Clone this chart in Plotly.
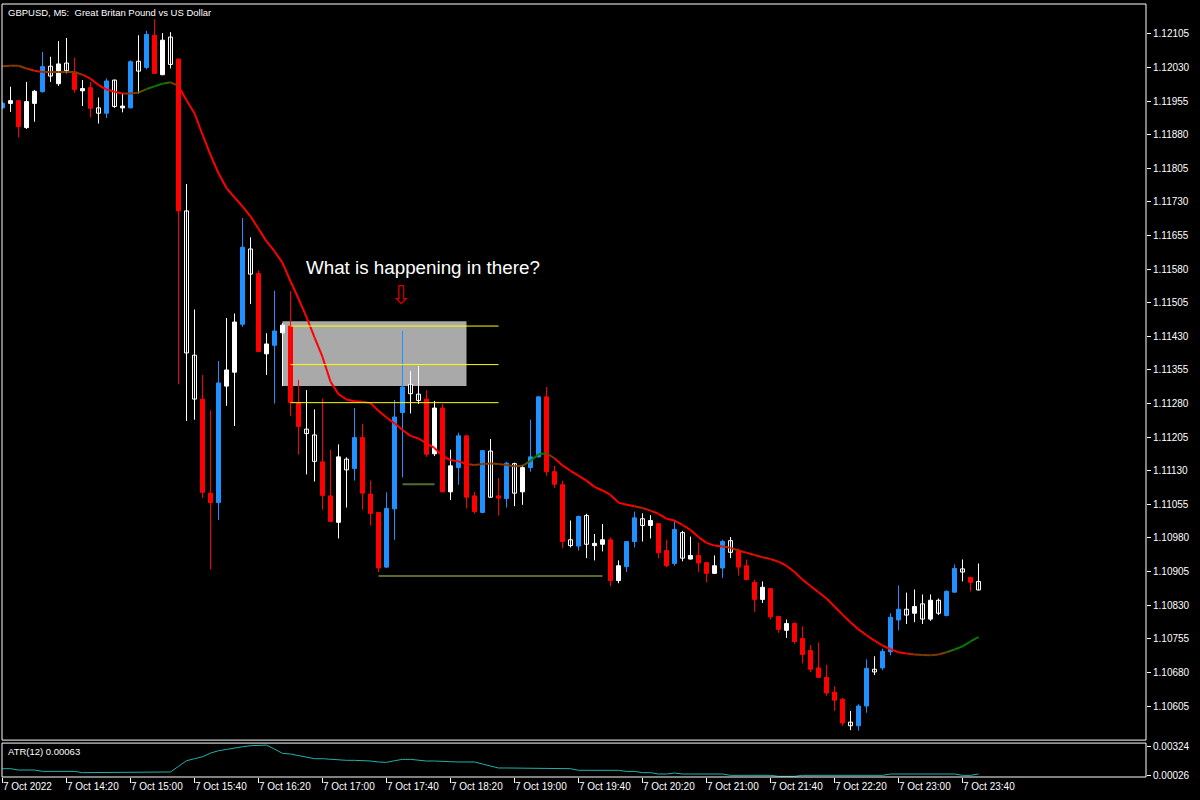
import plotly.graph_objects as go

# ---------------- data (GBPUSD M5, 7 Oct 2022 13:40 .. 23:50) ----------------
opens = [
    1.11940, 1.11950, 1.11956, 1.11896, 1.11950, 1.11976, 1.12033, 1.11994, 1.12040, 1.12020,
    1.11978, 1.11985, 1.11940, 1.11928, 1.12002, 1.11940, 1.11940, 1.12044, 1.12030, 1.12102,
    1.12014, 1.12098, 1.12049, 1.11710, 1.11388, 1.11290, 1.11080, 1.11059, 1.11319, 1.11350,
    1.11457, 1.11625, 1.11570, 1.11391, 1.11410, 1.11438, 1.11453, 1.11281, 1.11223, 1.11210,
    1.11150, 1.11074, 1.11015, 1.11156, 1.11135, 1.11204, 1.11078, 1.11037, 1.10915, 1.11045,
    1.11260, 1.11323, 1.11301, 1.11290, 1.11168, 1.11270, 1.11083, 1.11137, 1.11208, 1.11074,
    1.11037, 1.11174, 1.11074, 1.11068, 1.11146, 1.11083, 1.11137, 1.11161, 1.11295, 1.11128,
    1.11099, 1.10976, 1.10962, 1.11030, 1.10963, 1.10966, 1.10976, 1.10885, 1.10916, 1.10972,
    1.11023, 1.11008, 1.11012, 1.10952, 1.10923, 1.10992, 1.10933, 1.10941, 1.10925, 1.10901,
    1.10913, 1.10974, 1.10950, 1.10918, 1.10881, 1.10843, 1.10867, 1.10805, 1.10774, 1.10789,
    1.10756, 1.10729, 1.10690, 1.10669, 1.10636, 1.10620, 1.10569, 1.10561, 1.10605, 1.10687,
    1.10690, 1.10726, 1.10797, 1.10821, 1.10812, 1.10833, 1.10799, 1.10841, 1.10807, 1.10859,
    1.10911, 1.10892, 1.10883]

highs = [
    1.11954, 1.11987, 1.11957, 1.11998, 1.11980, 1.12065, 1.12054, 1.12089, 1.12096, 1.12052,
    1.12002, 1.11998, 1.11963, 1.12006, 1.12003, 1.11972, 1.12046, 1.12102, 1.12112, 1.12138,
    1.12107, 1.12109, 1.12050, 1.11770, 1.11490, 1.11344, 1.11265, 1.11375, 1.11471, 1.11481,
    1.11694, 1.11651, 1.11577, 1.11437, 1.11532, 1.11460, 1.11531, 1.11333, 1.11310, 1.11267,
    1.11291, 1.11177, 1.11189, 1.11160, 1.11270, 1.11235, 1.11108, 1.11038, 1.11082, 1.11288,
    1.11442, 1.11353, 1.11364, 1.11310, 1.11286, 1.11279, 1.11177, 1.11215, 1.11210, 1.11083,
    1.11176, 1.11201, 1.11114, 1.11150, 1.11148, 1.11143, 1.11244, 1.11297, 1.11317, 1.11141,
    1.11108, 1.11019, 1.11030, 1.11034, 1.10989, 1.11011, 1.10981, 1.10930, 1.10973, 1.11039,
    1.11035, 1.11031, 1.11013, 1.10976, 1.11019, 1.10996, 1.10983, 1.10970, 1.10926, 1.10941,
    1.10976, 1.10982, 1.10957, 1.10932, 1.10887, 1.10883, 1.10868, 1.10806, 1.10798, 1.10792,
    1.10783, 1.10741, 1.10747, 1.10697, 1.10649, 1.10623, 1.10594, 1.10609, 1.10709, 1.10716,
    1.10733, 1.10812, 1.10874, 1.10858, 1.10865, 1.10854, 1.10854, 1.10845, 1.10863, 1.10921,
    1.10932, 1.10893, 1.10923]

lows = [
    1.11938, 1.11931, 1.11874, 1.11893, 1.11909, 1.11974, 1.11998, 1.11989, 1.12017, 1.11974,
    1.11944, 1.11919, 1.11905, 1.11917, 1.11940, 1.11930, 1.11939, 1.11972, 1.12026, 1.12016,
    1.12013, 1.12028, 1.11323, 1.11241, 1.11244, 1.11069, 1.10910, 1.11020, 1.11275, 1.11230,
    1.11451, 1.11502, 1.11395, 1.11344, 1.11280, 1.11319, 1.11252, 1.11166, 1.11122, 1.11106,
    1.11043, 1.11015, 1.10979, 1.11048, 1.11108, 1.11043, 1.11008, 1.10904, 1.10914, 1.10976,
    1.11115, 1.11258, 1.11279, 1.11161, 1.11163, 1.11082, 1.11065, 1.11099, 1.11046, 1.11034,
    1.11035, 1.11070, 1.11030, 1.11048, 1.11051, 1.11054, 1.11128, 1.11160, 1.11119, 1.11092,
    1.10957, 1.10959, 1.10952, 1.10935, 1.10930, 1.10950, 1.10872, 1.10879, 1.10904, 1.10959,
    1.10972, 1.10979, 1.10935, 1.10915, 1.10918, 1.10928, 1.10932, 1.10904, 1.10881, 1.10900,
    1.10891, 1.10935, 1.10896, 1.10886, 1.10815, 1.10835, 1.10798, 1.10768, 1.10757, 1.10744,
    1.10700, 1.10681, 1.10668, 1.10628, 1.10594, 1.10561, 1.10551, 1.10550, 1.10590, 1.10674,
    1.10685, 1.10718, 1.10774, 1.10788, 1.10792, 1.10788, 1.10795, 1.10808, 1.10805, 1.10858,
    1.10883, 1.10861, 1.10863]

closes = [
    1.11950, 1.11956, 1.11898, 1.11954, 1.11977, 1.12032, 1.12011, 1.12038, 1.12023, 1.11981,
    1.11983, 1.11939, 1.11928, 1.12000, 1.11943, 1.11944, 1.12043, 1.12022, 1.12104, 1.12017,
    1.12091, 1.12037, 1.11710, 1.11393, 1.11290, 1.11082, 1.11059, 1.11326, 1.11355, 1.11462,
    1.11629, 1.11569, 1.11396, 1.11413, 1.11442, 1.11455, 1.11282, 1.11229, 1.11213, 1.11151,
    1.11075, 1.11017, 1.11161, 1.11132, 1.11204, 1.11080, 1.11035, 1.10913, 1.11046, 1.11250,
    1.11317, 1.11302, 1.11287, 1.11167, 1.11270, 1.11083, 1.11141, 1.11208, 1.11071, 1.11039,
    1.11175, 1.11071, 1.11069, 1.11147, 1.11080, 1.11137, 1.11161, 1.11295, 1.11128, 1.11100,
    1.10972, 1.10963, 1.11028, 1.10966, 1.10968, 1.10976, 1.10885, 1.10918, 1.10972, 1.11025,
    1.11008, 1.11019, 1.10947, 1.10918, 1.10999, 1.10935, 1.10941, 1.10924, 1.10901, 1.10918,
    1.10972, 1.10948, 1.10915, 1.10887, 1.10843, 1.10870, 1.10804, 1.10776, 1.10789, 1.10749,
    1.10720, 1.10687, 1.10669, 1.10634, 1.10618, 1.10567, 1.10561, 1.10605, 1.10689, 1.10681,
    1.10727, 1.10803, 1.10821, 1.10808, 1.10827, 1.10799, 1.10841, 1.10812, 1.10861, 1.10912,
    1.10904, 1.10881, 1.10864]

# indicator candle state: 1 = bullish signal bar, -1 = bearish signal bar, 0 = plain bar
signal = [
    1, 0, -1, 0, 0, 1, 0, 0, 0, -1,
    0, -1, 0, 1, 0, 0, 1, 0, 1, -1,
    0, 0, -1, 0, 0, -1, -1, 1, 0, 0,
    1, 0, -1, 0, 1, 0, -1, -1, 0, 0,
    -1, -1, 0, 0, 1, -1, -1, -1, 1, 1,
    1, 0, 0, -1, 0, -1, 0, 1, -1, -1,
    1, 0, -1, 1, 0, 0, 1, 1, -1, -1,
    -1, 0, 1, 0, 0, 0, -1, 0, 1, 1,
    0, 0, -1, -1, 1, 0, 0, -1, -1, 0,
    1, 0, -1, -1, -1, 0, -1, -1, 0, -1,
    -1, -1, -1, -1, -1, -1, 0, 1, 1, 0,
    1, 1, 1, 0, 0, 0, 0, 0, 1, 1,
    0, -1, 0]

ma_values = [
    1.12033, 1.12034, 1.12034, 1.12028, 1.12023, 1.12020, 1.12020, 1.12020, 1.12020, 1.12020,
    1.12014, 1.12005, 1.11991, 1.11981, 1.11976, 1.11972, 1.11972, 1.11974, 1.11982, 1.11988,
    1.11994, 1.11997, 1.11989, 1.11957, 1.11928, 1.11880, 1.11835, 1.11794, 1.11761, 1.11740,
    1.11720, 1.11698, 1.11670, 1.11642, 1.11620, 1.11594, 1.11553, 1.11514, 1.11473, 1.11428,
    1.11384, 1.11329, 1.11301, 1.11289, 1.11285, 1.11284, 1.11281, 1.11264, 1.11249, 1.11236,
    1.11221, 1.11208, 1.11202, 1.11191, 1.11181, 1.11163, 1.11154, 1.11151, 1.11145, 1.11143,
    1.11145, 1.11146, 1.11145, 1.11143, 1.11140, 1.11141, 1.11152, 1.11167, 1.11169, 1.11158,
    1.11142, 1.11130, 1.11119, 1.11108, 1.11094, 1.11086, 1.11076, 1.11059, 1.11054, 1.11051,
    1.11047, 1.11041, 1.11034, 1.11023, 1.11019, 1.11009, 1.10998, 1.10982, 1.10969, 1.10963,
    1.10961, 1.10958, 1.10952, 1.10947, 1.10942, 1.10937, 1.10933, 1.10927, 1.10918, 1.10904,
    1.10887, 1.10873, 1.10859, 1.10845, 1.10827, 1.10809, 1.10792, 1.10776, 1.10763, 1.10751,
    1.10740, 1.10732, 1.10725, 1.10722, 1.10720, 1.10719, 1.10718, 1.10720, 1.10725, 1.10731,
    1.10738, 1.10749, 1.10759]

atr_values = [
    0.00096, 0.00096, 0.00082, 0.00082, 0.00082, 0.00068, 0.00068, 0.00068, 0.00068, 0.00068,
    0.00055, 0.00055, 0.00055, 0.00055, 0.00055, 0.00055, 0.00055, 0.00055, 0.00062, 0.00062,
    0.00062, 0.00062, 0.00120, 0.00178, 0.00199, 0.00219, 0.00257, 0.00281, 0.00295, 0.00305,
    0.00322, 0.00333, 0.00336, 0.00339, 0.00298, 0.00254, 0.00247, 0.00233, 0.00216, 0.00199,
    0.00199, 0.00192, 0.00185, 0.00182, 0.00182, 0.00182, 0.00175, 0.00165, 0.00161, 0.00178,
    0.00192, 0.00192, 0.00182, 0.00175, 0.00175, 0.00168, 0.00168, 0.00165, 0.00168, 0.00165,
    0.00144, 0.00123, 0.00103, 0.00103, 0.00103, 0.00103, 0.00103, 0.00096, 0.00096, 0.00096,
    0.00096, 0.00096, 0.00079, 0.00079, 0.00079, 0.00079, 0.00079, 0.00079, 0.00068, 0.00068,
    0.00055, 0.00055, 0.00041, 0.00041, 0.00051, 0.00041, 0.00041, 0.00041, 0.00041, 0.00041,
    0.00041, 0.00027, 0.00027, 0.00027, 0.00027, 0.00027, 0.00027, 0.00017, 0.00017, 0.00017,
    0.00027, 0.00027, 0.00027, 0.00027, 0.00027, 0.00027, 0.00027, 0.00027, 0.00027, 0.00027,
    0.00027, 0.00041, 0.00041, 0.00041, 0.00041, 0.00041, 0.00041, 0.00041, 0.00041, 0.00041,
    0.00027, 0.00027, 0.00041]

x_tick_positions = [0, 8, 16, 24, 32, 40, 48, 56, 64, 72, 80, 88, 96, 104, 112, 120]
x_tick_labels = ["7 Oct 2022", "7 Oct 14:20", "7 Oct 15:00", "7 Oct 15:40", "7 Oct 16:20",
                 "7 Oct 17:00", "7 Oct 17:40", "7 Oct 18:20", "7 Oct 19:00", "7 Oct 19:40",
                 "7 Oct 20:20", "7 Oct 21:00", "7 Oct 21:40", "7 Oct 22:20", "7 Oct 23:00",
                 "7 Oct 23:40"]
price_ticks = [1.10605, 1.10680, 1.10755, 1.10830, 1.10905, 1.10980, 1.11055, 1.11130,
               1.11205, 1.11280, 1.11355, 1.11430, 1.11505, 1.11580, 1.11655, 1.11730,
               1.11805, 1.11880, 1.11955, 1.12030, 1.12105]
price_tick_labels = ["1.10605", "1.10680", "1.10755", "1.10830", "1.10905", "1.10980", "1.11055",
                     "1.11130", "1.11205", "1.11280", "1.11355", "1.11430", "1.11505", "1.11580",
                     "1.11655", "1.11730", "1.11805", "1.11880", "1.11955", "1.12030", "1.12105"]
atr_ticks = [0.00026, 0.00324]
atr_tick_labels = ["0.00026", "0.00324"]

# drawn objects on the chart
zone_start, zone_end = 35, 58
zone_top, zone_bottom = 1.11464, 1.11319
fib_start, fib_end = 36, 62
fib_levels = [1.11453, 1.11367, 1.11282]
support_lines = [(50, 54, 1.11100), (47, 75, 1.10895)]

chart_title = "GBPUSD, M5:\u00a0 Great Britan Pound vs US Dollar"
atr_label = "ATR(12) 0.00063"
note_text = "What is happening in there?"

# ---------------- styling ----------------
BLUE, RED, WHITE, BLACK = "#1E90FF", "#FF0000", "#FFFFFF", "#000000"
FONT = "Liberation Sans, Arial, sans-serif"

n = len(opens)
groups = {"blue": [], "red": [], "bull": [], "bear": []}
for i in range(n):
    if signal[i] == 1:
        groups["blue"].append(i)
    elif signal[i] == -1:
        groups["red"].append(i)
    elif closes[i] >= opens[i]:
        groups["bull"].append(i)
    else:
        groups["bear"].append(i)

edge = {"blue": BLUE, "red": RED, "bull": WHITE, "bear": WHITE}
fill = {"blue": BLUE, "red": RED, "bull": WHITE, "bear": BLACK}

fig = go.Figure()

# wicks
for g, members in groups.items():
    xs, ys = [], []
    for i in members:
        xs += [i, i, None]
        ys += [lows[i], highs[i], None]
    fig.add_trace(go.Scatter(x=xs, y=ys, mode="lines", line=dict(color=edge[g], width=1),
                             hoverinfo="skip", showlegend=False, xaxis="x", yaxis="y"))

# bodies
for g, members in groups.items():
    base = [min(opens[i], closes[i]) for i in members]
    height = [abs(closes[i] - opens[i]) for i in members]
    fig.add_trace(go.Bar(x=members, y=height, base=base, width=0.5,
                         marker=dict(color=fill[g], line=dict(color=edge[g], width=1)),
                         hoverinfo="skip", showlegend=False, xaxis="x", yaxis="y"))

# colour-changing moving average
brown, red_c, green = (128, 60, 0), (255, 0, 0), (0, 128, 0)


def ma_colour(i):
    d = (ma_values[i] - ma_values[max(0, i - 3)]) * 1e5
    t = max(0.0, min(1.0, (abs(d) - 6) / 12))
    target = red_c if d < 0 else green
    c = [round(brown[j] + (target[j] - brown[j]) * t) for j in range(3)]
    return "rgb(%d,%d,%d)" % tuple(c)


for i in range(n - 1):
    fig.add_trace(go.Scatter(x=[i, i + 1], y=[ma_values[i], ma_values[i + 1]], mode="lines",
                             line=dict(color=ma_colour(i + 1), width=2),
                             hoverinfo="skip", showlegend=False, xaxis="x", yaxis="y"))

# ATR sub-window
fig.add_trace(go.Scatter(x=list(range(n)), y=atr_values, mode="lines",
                         line=dict(color="#20B2AA", width=1),
                         hoverinfo="skip", showlegend=False, xaxis="x2", yaxis="y2"))

shapes = []
# grey zone
shapes.append(dict(type="rect", xref="x", yref="y", x0=zone_start, x1=zone_end,
                   y0=zone_bottom, y1=zone_top, fillcolor="#A9A9A9", line=dict(width=0),
                   layer="below"))
for lvl in fib_levels:
    shapes.append(dict(type="line", xref="x", yref="y", x0=fib_start, x1=fib_end, y0=lvl, y1=lvl,
                       line=dict(color="#FFFF00", width=1), layer="above"))
for x0, x1, lvl in support_lines:
    shapes.append(dict(type="line", xref="x", yref="y", x0=x0, x1=x1, y0=lvl, y1=lvl,
                       line=dict(color="#556B2F", width=2), layer="above"))
# pane borders
for yr in ["y domain", "y2 domain"]:
    shapes.append(dict(type="rect", xref="x domain", yref=yr, x0=0, x1=1, y0=0, y1=1,
                       line=dict(color=WHITE, width=1), fillcolor="rgba(0,0,0,0)", layer="above"))

annotations = [
    dict(text=chart_title, xref="paper", yref="paper", x=0, y=1, xanchor="left", yanchor="top",
         xshift=4, yshift=-1, showarrow=False, font=dict(family=FONT, size=9.5, color=WHITE)),
    dict(text=atr_label, xref="paper", yref="y2 domain", x=0, y=1, xanchor="left", yanchor="top",
         xshift=4, yshift=-1, showarrow=False, font=dict(family=FONT, size=9.5, color=WHITE)),
    dict(text=note_text, xref="x", yref="y", x=37.7, y=1.11584, xanchor="left", yanchor="middle",
         showarrow=False, font=dict(family=FONT, size=18.8, color=WHITE)),
    dict(text="\u21e9", xref="x", yref="y", x=49.8, y=1.11522, xanchor="center", yanchor="middle",
         showarrow=False, font=dict(family="DejaVu Sans", size=26, color="#D00000")),
]

fig.update_layout(
    width=1200, height=800,
    paper_bgcolor=BLACK, plot_bgcolor=BLACK,
    margin=dict(l=2, r=54, t=2, b=22),
    barmode="overlay", showlegend=False,
    shapes=shapes, annotations=annotations,
    xaxis=dict(domain=[0, 1], range=[-0.0625, 142.9375], anchor="y", showticklabels=False,
               ticks="", showgrid=False, zeroline=False, showline=False),
    xaxis2=dict(domain=[0, 1], matches="x", anchor="y2", tickmode="array",
                tickvals=x_tick_positions, ticktext=x_tick_labels, ticks="outside", ticklen=5,
                tickcolor=WHITE, ticklabelposition="outside right", showgrid=False,
                zeroline=False, showline=False,
                tickfont=dict(family=FONT, size=10, color=WHITE)),
    yaxis=dict(domain=[0.04897, 1], range=[1.105289, 1.121718], side="right", anchor="x",
               tickmode="array", tickvals=price_ticks, ticktext=price_tick_labels,
               ticks="outside", ticklen=4, tickcolor=WHITE, showgrid=False, zeroline=False,
               showline=False, tickfont=dict(family=FONT, size=10, color=WHITE)),
    yaxis2=dict(domain=[0.00129, 0.0451], range=[0.0001, 0.0036], side="right", anchor="x2",
                tickmode="array", tickvals=atr_ticks, ticktext=atr_tick_labels,
                ticks="outside", ticklen=4, tickcolor=WHITE, showgrid=False, zeroline=False,
                showline=False, tickfont=dict(family=FONT, size=10, color=WHITE)),
)

fig.write_html("out.html", config={"displayModeBar": False},
               post_script="document.body.style.margin='0';")
